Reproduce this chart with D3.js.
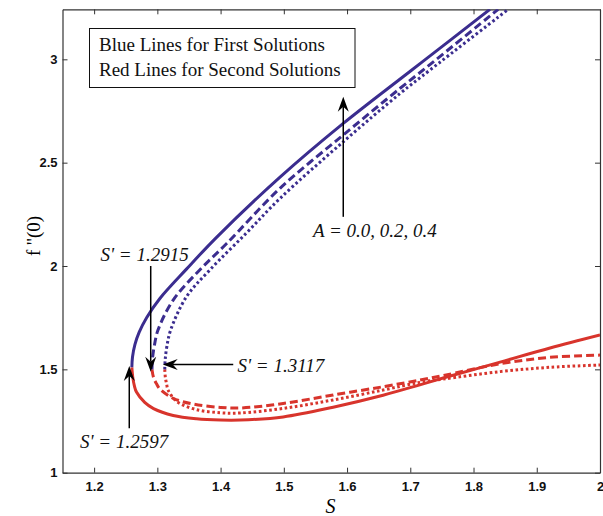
<!DOCTYPE html>
<html>
<head>
<meta charset="utf-8">
<script src="https://cdn.jsdelivr.net/npm/d3@7"></script>
<style>
  html, body { margin: 0; padding: 0; background: #fff; }
  svg { display: block; }
</style>
</head>
<body>
<svg id="chart" width="603" height="516"></svg>
<script>
// ---- data: [S, f''(0)] pairs for each branch, A = 0.0, 0.2, 0.4 ----
// first (upper) solutions, starting at the turning point S'
const firstA00 = [[1.2597,1.51],[1.2607,1.56],[1.2645,1.62],[1.2713,1.68],[1.283,1.75],[1.304,1.843],
  [1.346,1.985],[1.394,2.14],[1.494,2.43],[1.594,2.69],[1.684,2.905],[1.72,2.99],[1.826,3.242]];
const firstA02 = [[1.2915,1.50],[1.2923,1.55],[1.295,1.61],[1.301,1.69],[1.325,1.835],[1.367,1.981],
  [1.41,2.11],[1.494,2.376],[1.594,2.634],[1.684,2.86],[1.726,2.962],[1.839,3.242]];
const firstA04 = [[1.3117,1.50],[1.3125,1.55],[1.315,1.61],[1.321,1.69],[1.346,1.851],[1.383,1.981],
  [1.441,2.16],[1.494,2.327],[1.594,2.601],[1.684,2.835],[1.731,2.948],[1.855,3.242]];
// second (lower) solutions, starting at the same turning points
const secondA00 = [[1.2597,1.51],[1.2612,1.46],[1.2637,1.42],[1.267,1.39],[1.28,1.34],[1.294,1.31],
  [1.325,1.277],[1.362,1.261],[1.40,1.255],[1.431,1.255],[1.499,1.27],[1.578,1.317],[1.657,1.375],
  [1.715,1.425],[1.752,1.458],[1.842,1.535],[1.921,1.603],[2.0,1.666]];
const secondA02 = [[1.2915,1.50],[1.294,1.46],[1.2987,1.43],[1.304,1.405],[1.325,1.36],[1.357,1.332],
  [1.40,1.316],[1.431,1.313],[1.499,1.335],[1.578,1.376],[1.657,1.416],[1.715,1.448],[1.752,1.47],
  [1.842,1.527],[1.921,1.558],[2.0,1.569]];
const secondA04 = [[1.3117,1.50],[1.3127,1.46],[1.3146,1.43],[1.317,1.40],[1.331,1.344],[1.362,1.305],
  [1.40,1.29],[1.431,1.289],[1.499,1.311],[1.578,1.352],[1.657,1.40],[1.715,1.437],[1.752,1.453],
  [1.842,1.489],[1.921,1.51],[2.0,1.521]];

const aValues = ["0.0", "0.2", "0.4"];
const turningPoints = [1.2597, 1.2915, 1.3117];

const xTicks = [1.2, 1.3, 1.4, 1.5, 1.6, 1.7, 1.8, 1.9, 2];
const xTickLabels = ["1.2", "1.3", "1.4", "1.5", "1.6", "1.7", "1.8", "1.9", "2"];
const yTicks = [1, 1.5, 2, 2.5, 3];
const yTickLabels = ["1", "1.5", "2", "2.5", "3"];

const legendLines = ["Blue Lines for First Solutions", "Red Lines for Second Solutions"];

// ---- layout ----
const plot = { left: 62.5, right: 600, top: 9.3, bottom: 472.7 };
const blue = "#3b2d8f", red = "#d8342c";
const dashFor = ["none", "8,4", "2.6,2.6"];

const svg = d3.select("#chart");
const x = d3.scaleLinear().domain([1.15, 2]).range([plot.left, plot.right]);
const y = d3.scaleLinear().domain([1, 3.242]).range([plot.bottom, plot.top]);

svg.append("defs").append("clipPath").attr("id", "plotClip")
  .append("rect")
  .attr("x", plot.left).attr("y", plot.top)
  .attr("width", plot.right - plot.left).attr("height", plot.bottom - plot.top);

// ---- axes: box with inward ticks on all four sides ----
const tickFont = "'Liberation Sans', Arial, Helvetica, sans-serif";
const fmtX = (d) => xTickLabels[xTicks.indexOf(d)];
const fmtY = (d) => yTickLabels[yTicks.indexOf(d)];

const gBottom = svg.append("g").attr("transform", `translate(0,${plot.bottom})`)
  .call(d3.axisBottom(x).tickValues(xTicks).tickFormat(fmtX).tickSizeInner(-5).tickSizeOuter(0).tickPadding(9));
const gTop = svg.append("g").attr("transform", `translate(0,${plot.top})`)
  .call(d3.axisTop(x).tickValues(xTicks).tickFormat("").tickSizeInner(-5).tickSizeOuter(0));
const gLeft = svg.append("g").attr("transform", `translate(${plot.left},0)`)
  .call(d3.axisLeft(y).tickValues(yTicks).tickFormat(fmtY).tickSizeInner(-5).tickSizeOuter(0).tickPadding(5));
const gRight = svg.append("g").attr("transform", `translate(${plot.right},0)`)
  .call(d3.axisRight(y).tickValues(yTicks).tickFormat("").tickSizeInner(-5).tickSizeOuter(0));

[gBottom, gTop, gLeft, gRight].forEach((g) => {
  g.selectAll(".domain").attr("stroke", "#333").attr("stroke-width", 1.2);
  g.selectAll(".tick line").attr("stroke", "#333").attr("stroke-width", 1);
  g.selectAll(".tick text")
    .attr("fill", "#111")
    .style("font-family", tickFont)
    .style("font-size", "13px")
    .style("font-weight", "bold");
});

// axis titles
svg.append("text")
  .attr("x", 330.5).attr("y", 513)
  .attr("text-anchor", "middle")
  .style("font-family", "'Liberation Serif', 'Times New Roman', serif")
  .style("font-style", "italic")
  .style("font-size", "20px")
  .text("S");

svg.append("text")
  .attr("transform", "translate(40,236) rotate(-90)")
  .attr("text-anchor", "middle")
  .style("font-family", "'Liberation Serif', 'Times New Roman', serif")
  .style("font-size", "19px")
  .text("f ''(0)");

// ---- curves ----
const line = d3.line()
  .x((d) => x(d[0]))
  .y((d) => y(d[1]))
  .curve(d3.curveCatmullRom.alpha(0.5));

const curves = svg.append("g").attr("clip-path", "url(#plotClip)");
const branches = [
  { data: secondA00, color: red, dash: dashFor[0] },
  { data: secondA02, color: red, dash: dashFor[1] },
  { data: secondA04, color: red, dash: dashFor[2] },
  { data: firstA00, color: blue, dash: dashFor[0] },
  { data: firstA02, color: blue, dash: dashFor[1] },
  { data: firstA04, color: blue, dash: dashFor[2] },
];
curves.selectAll("path.branch")
  .data(branches)
  .join("path")
  .attr("class", "branch")
  .attr("d", (b) => line(b.data))
  .attr("fill", "none")
  .attr("stroke", (b) => b.color)
  .attr("stroke-width", 3)
  .attr("stroke-dasharray", (b) => b.dash)
  .attr("stroke-linejoin", "round");

// ---- legend box ----
const legend = svg.append("g");
legend.append("rect")
  .attr("x", 89.5).attr("y", 28.5).attr("width", 265.5).attr("height", 59)
  .attr("fill", "#fff").attr("stroke", "#111").attr("stroke-width", 1);
legend.selectAll("text")
  .data(legendLines)
  .join("text")
  .attr("x", 99).attr("y", (d, i) => 50.5 + i * 25.5)
  .style("font-family", "'Liberation Serif', 'Times New Roman', serif")
  .style("font-size", "19px")
  .attr("fill", "#111")
  .text((d) => d);

// ---- annotations with arrows ----
function arrow(g, x1, y1, x2, y2) {
  const px1 = x(x1), py1 = y(y1), px2 = x(x2), py2 = y(y2);
  const ang = Math.atan2(py2 - py1, px2 - px1);
  const len = 15, half = 5.5, notch = 10;
  g.append("line")
    .attr("x1", px1).attr("y1", py1)
    .attr("x2", px2 - Math.cos(ang) * notch).attr("y2", py2 - Math.sin(ang) * notch)
    .attr("stroke", "#000").attr("stroke-width", 1.5);
  const c = Math.cos(ang), s = Math.sin(ang);
  const pts = [
    [px2, py2],
    [px2 - c * len - s * half, py2 - s * len + c * half],
    [px2 - c * notch, py2 - s * notch],
    [px2 - c * len + s * half, py2 - s * len - c * half],
  ];
  g.append("path")
    .attr("d", "M" + pts.map((p) => p.join(",")).join("L") + "Z")
    .attr("fill", "#000");
}

const notes = svg.append("g");
const annoFont = "'Liberation Serif', 'Times New Roman', serif";
function note(text, px, py) {
  notes.append("text")
    .attr("x", px).attr("y", py)
    .style("font-family", annoFont)
    .style("font-style", "italic")
    .style("font-size", "19px")
    .attr("fill", "#111")
    .text(text);
}

// A label with arrow pointing up across the first solutions
arrow(notes, 1.594, 2.238, 1.594, 2.819);
note("A = " + aValues.join(", "), 313, 236.7);

// S' labels at the turning points
arrow(notes, 1.2895, 2.0, 1.2895, 1.489);
note("S' = " + turningPoints[1].toFixed(4), 100.5, 260.5);

arrow(notes, 1.420, 1.524, 1.3085, 1.524);
note("S' = " + turningPoints[2].toFixed(4), 237.5, 371.5);

arrow(notes, 1.2556, 1.215, 1.2556, 1.516);
note("S' = " + turningPoints[0].toFixed(4), 80, 448);
</script>
</body>
</html>
